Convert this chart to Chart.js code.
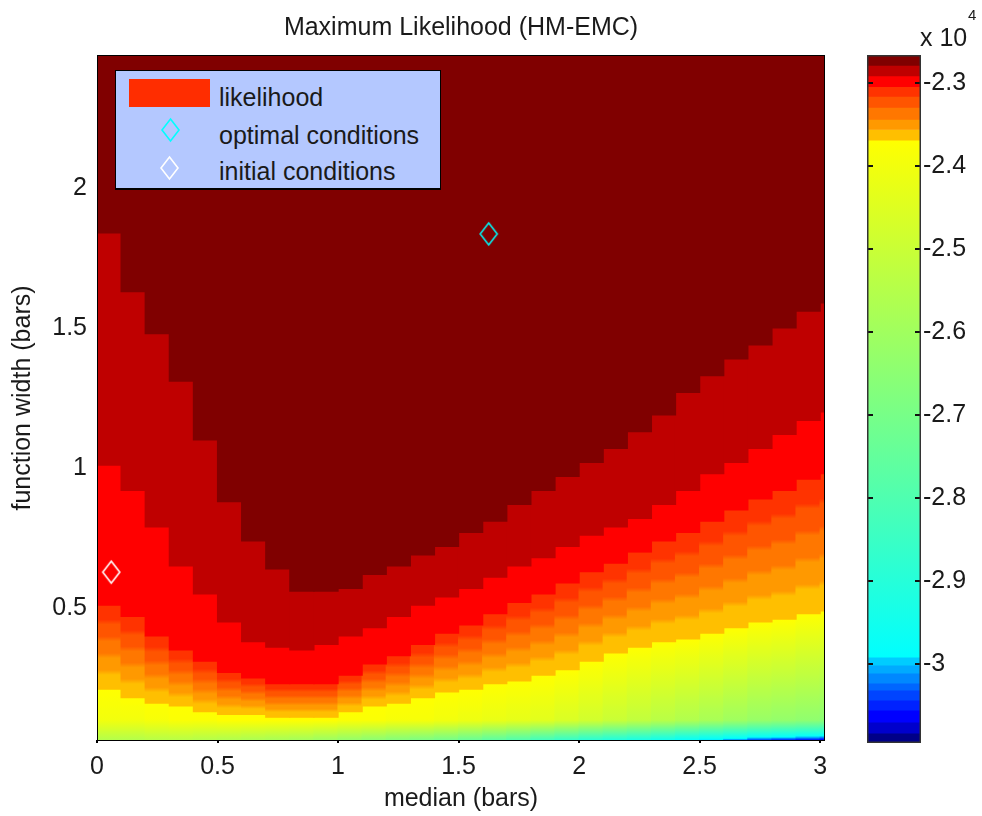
<!DOCTYPE html>
<html>
<head>
<meta charset="utf-8">
<title>Maximum Likelihood (HM-EMC)</title>
<script src="https://cdn.jsdelivr.net/npm/chart.js@4.4.1/dist/chart.umd.min.js"></script>
<style>
  html, body { margin: 0; padding: 0; background: #fff; }
  #wrap { position: relative; width: 982px; height: 816px; overflow: hidden;
          font-family: "Liberation Sans", Arial, sans-serif; color: #1a1a1a; }
  #wrap canvas { position: absolute; top: 0; }
  #legend { position: absolute; left: 115px; top: 70px; width: 326px; height: 120px;
            box-sizing: border-box; background: #b4c8ff; border: 1px solid #000; border-bottom-width: 2px; }
  #legend .txt { position: absolute; left: 103px; font-size: 25px; line-height: 25px; white-space: nowrap; }
  #legend .patch { position: absolute; left: 13px; top: 8px; width: 81px; height: 28px; background: #ff2d00; }
  #legend svg { position: absolute; }
  .exp { position: absolute; white-space: nowrap; }
</style>
</head>
<body>
<div id="wrap">
  <canvas id="map" width="982" height="816" style="left:0"></canvas>
  <canvas id="bar" width="142" height="816" style="left:840px"></canvas>
  <div id="legend">
    <div class="patch"></div>
    <div class="txt" style="top:14px">likelihood</div>
    <svg width="21" height="26" style="left:44px;top:46px"><polygon points="10.5,2 19,13 10.5,24 2,13" fill="none" stroke="#00ffff" stroke-width="1.6"/></svg>
    <div class="txt" style="top:52px">optimal conditions</div>
    <svg width="21" height="26" style="left:43px;top:84px"><polygon points="10.5,2 19,13 10.5,24 2,13" fill="none" stroke="#ffffff" stroke-width="1.6"/></svg>
    <div class="txt" style="top:88px">initial conditions</div>
  </div>
  <div class="exp" style="left:920px;top:25px;font-size:25px;line-height:25px">x 10</div>
  <div class="exp" style="left:968px;top:7px;font-size:15px;line-height:15px">4</div>
</div>
<script>
// grid columns (median, bars) and the lower edge of each colour band (function width, bars)
const median = [0.05, 0.15, 0.25, 0.35, 0.45, 0.55, 0.65, 0.75, 0.85, 0.95, 1.05, 1.15, 1.25, 1.35, 1.45, 1.55,
                1.65, 1.75, 1.85, 1.95, 2.05, 2.15, 2.25, 2.35, 2.45, 2.55, 2.65, 2.75, 2.85, 2.95, 3.05];
const darkFrom = [1.84, 1.63, 1.48, 1.31, 1.10, 0.88, 0.74, 0.64, 0.56, 0.56, 0.57, 0.62, 0.65, 0.69, 0.72, 0.77,
                  0.81, 0.87, 0.92, 0.97, 1.02, 1.07, 1.13, 1.19, 1.27, 1.33, 1.39, 1.44, 1.50, 1.56, 1.59];
const crimsonFrom = [1.01, 0.92, 0.79, 0.65, 0.55, 0.45, 0.38, 0.36, 0.35, 0.37, 0.40, 0.43, 0.47, 0.51, 0.54, 0.57,
                     0.61, 0.65, 0.68, 0.72, 0.76, 0.79, 0.82, 0.87, 0.92, 0.98, 1.02, 1.07, 1.12, 1.17, 1.20];
const redFrom = [0.51, 0.47, 0.40, 0.35, 0.31, 0.27, 0.25, 0.23, 0.23, 0.23, 0.26, 0.30, 0.33, 0.37, 0.41, 0.44,
                 0.48, 0.52, 0.55, 0.59, 0.63, 0.66, 0.70, 0.74, 0.77, 0.81, 0.85, 0.89, 0.92, 0.96, 0.98];
const orangeFrom = [0.21, 0.18, 0.16, 0.15, 0.13, 0.12, 0.12, 0.11, 0.11, 0.11, 0.13, 0.15, 0.16, 0.18, 0.20, 0.21,
                    0.23, 0.24, 0.26, 0.28, 0.31, 0.34, 0.36, 0.38, 0.39, 0.41, 0.43, 0.45, 0.46, 0.48, 0.49];
// likelihood (x 10^4) at width 0.1 and at the bottom edge of each column
const level10 = [-2.40, -2.40, -2.39, -2.38, -2.38, -2.37, -2.37, -2.37, -2.37, -2.37, -2.38, -2.38, -2.39, -2.39, -2.40, -2.41,
                 -2.42, -2.43, -2.44, -2.46, -2.48, -2.50, -2.52, -2.54, -2.56, -2.58, -2.60, -2.62, -2.63, -2.64, -2.65];
const floorLevel = [-2.56, -2.56, -2.55, -2.55, -2.56, -2.57, -2.58, -2.59, -2.60, -2.62, -2.64, -2.66, -2.68, -2.70, -2.72, -2.75,
                    -2.78, -2.81, -2.85, -2.88, -2.91, -2.93, -2.95, -2.97, -3.00, -3.02, -3.04, -3.06, -3.07, -3.08, -3.09];

const optimalMedian = [1.625], optimalWidth = [1.836];
const initialMedian = [0.059], initialWidth = [0.628];

const medianTicks = [0, 0.5, 1, 1.5, 2, 2.5, 3];
const widthTicks = [0.5, 1, 1.5, 2];

// colour bar (x 10^4)
const warmEdges = [-2.2667, -2.2792, -2.2920, -2.3048, -2.3165, -2.3298, -2.3442, -2.3563, -2.3692];
const warmColors = ['#800000', '#bf0000', '#ff0000', '#ff3300', '#ff5500', '#ff7700', '#ff9900', '#ffbf00'];
const coolEdges = [-2.9912, -3.0008, -3.0104, -3.0225, -3.0309, -3.0429, -3.0549, -3.0694, -3.0827, -3.0945];
const coolColors = ['#00ccff', '#00aaff', '#0088ff', '#0066ff', '#0044ff', '#0022ff', '#0000ff', '#0000cc', '#000088'];
const colorTicks = [-3, -2.9, -2.8, -2.7, -2.6, -2.5, -2.4, -2.3];

const widthMin = 0.025, widthMax = 2.475;

Chart.defaults.font.family = '"Liberation Sans", Arial, sans-serif';
Chart.defaults.font.size = 25;
Chart.defaults.color = '#1a1a1a';

// smooth colour lookup through the colour bar: band centres plus the yellow and cyan ends
const hex = h => [1, 3, 5].map(i => parseInt(h.substr(i, 2), 16));
const knots = [];
warmColors.forEach((c, i) => knots.push([(warmEdges[i] + warmEdges[i + 1]) / 2, hex(c)]));
knots.push([warmEdges[8], [255, 255, 0]]);
knots.push([coolEdges[0], [0, 255, 255]]);
coolColors.forEach((c, i) => knots.push([(coolEdges[i] + coolEdges[i + 1]) / 2, hex(c)]));

function colorAt(v) {
  if (v >= knots[0][0]) return `rgb(${knots[0][1].join(',')})`;
  for (let i = 1; i < knots.length; i++) {
    if (v >= knots[i][0]) {
      const [va, ca] = knots[i - 1], [vb, cb] = knots[i];
      const t = (v - vb) / (va - vb);
      return `rgb(${cb.map((c, j) => Math.round(c + (ca[j] - c) * t)).join(',')})`;
    }
  }
  return `rgb(${knots[knots.length - 1][1].join(',')})`;
}

function ramp(ctx, y0, y1, pieces) {
  const g = ctx.createLinearGradient(0, y0, 0, y1);
  const span = (y1 - y0) || 1;
  pieces.forEach(([pa, pb, va, vb]) => {
    for (let i = 0; i <= 16; i++) {
      const t = i / 16;
      const off = Math.min(1, Math.max(0, (pa + (pb - pa) * t - y0) / span));
      g.addColorStop(off, colorAt(va + (vb - va) * t));
    }
  });
  return g;
}

// stepped bands with softened edges
function steps(ctx, y0, y1, colors) {
  const g = ctx.createLinearGradient(0, y0, 0, y1);
  const n = colors.length, span = (y1 - y0) || 1;
  const soft = Math.min(2.5 / span, 0.25 / n);
  colors.forEach((col, i) => {
    g.addColorStop(i === 0 ? 0 : i / n + soft, col);
    g.addColorStop(i === n - 1 ? 1 : (i + 1) / n - soft, col);
  });
  return g;
}

function band(label, lower, upper, color) {
  return {
    type: 'bar', label, order: 1, clip: 0, grouped: false, inflateAmount: 0.6,
    barPercentage: 1, categoryPercentage: 1, borderWidth: 0,
    backgroundColor: color,
    data: median.map((x, i) => ({ x, y: [lower[i], upper === null ? widthMax : upper[i]] }))
  };
}

const yellowFill = c => {
  const ch = c.chart;
  if (!ch.chartArea || c.type !== 'data') return '#ffff00';
  const ys = ch.scales.y, k = c.dataIndex;
  const pTop = ys.getPixelForValue(orangeFrom[k]);
  const pMid = ys.getPixelForValue(0.1);
  const pBot = ys.getPixelForValue(widthMin);
  return ramp(ch.ctx, pTop, pBot, [[pTop, pMid, warmEdges[8], level10[k]],
                                   [pMid, pBot, level10[k], floorLevel[k]]]);
};

const orangeFill = c => {
  const ch = c.chart;
  if (!ch.chartArea || c.type !== 'data') return '#ff7700';
  const ys = ch.scales.y, k = c.dataIndex;
  return steps(ch.ctx, ys.getPixelForValue(redFrom[k]), ys.getPixelForValue(orangeFrom[k]), warmColors.slice(3));
};

function diamond(color) {
  const c = document.createElement('canvas');
  c.width = 21; c.height = 26;
  const g = c.getContext('2d');
  g.strokeStyle = color; g.lineWidth = 1.6;
  g.beginPath(); g.moveTo(10.5, 2); g.lineTo(19, 13); g.lineTo(10.5, 24); g.lineTo(2, 13); g.closePath();
  g.stroke();
  return c;
}

const mapFrame = {
  id: 'mapFrame',
  beforeDatasetsDraw(chart) {
    const { ctx, chartArea: a } = chart;
    ctx.save();
    ctx.fillStyle = warmColors[0];
    ctx.fillRect(a.left, a.top, a.width, a.height);
    ctx.restore();
  },
  afterDatasetsDraw(chart) {
    const { ctx, chartArea: a, scales: { x } } = chart;
    ctx.save();
    ctx.strokeStyle = '#000';
    ctx.lineWidth = 1;
    ctx.strokeRect(a.left + 0.5, a.top + 0.5, a.width - 1, a.height - 1);
    ctx.lineWidth = 2;
    medianTicks.forEach(v => {
      const px = Math.round(x.getPixelForValue(v));
      ctx.beginPath(); ctx.moveTo(px, a.bottom - 1); ctx.lineTo(px, a.bottom + 2); ctx.stroke();
    });
    ctx.restore();
  }
};

const zeroZone = median.map(() => widthMin);

new Chart(document.getElementById('map'), {
  type: 'bar',
  data: {
    datasets: [
      { type: 'scatter', label: 'optimal conditions', order: 0, pointStyle: diamond('#00f0f0'),
        data: optimalMedian.map((x, i) => ({ x, y: optimalWidth[i] })) },
      { type: 'scatter', label: 'initial conditions', order: 0, pointStyle: diamond('#ffffff'),
        data: initialMedian.map((x, i) => ({ x, y: initialWidth[i] })) },
      band('likelihood', darkFrom, null, warmColors[0]),
      band('likelihood', crimsonFrom, darkFrom, warmColors[1]),
      band('likelihood', redFrom, crimsonFrom, warmColors[2]),
      band('likelihood', orangeFrom, redFrom, orangeFill),
      band('likelihood', zeroZone, orangeFrom, yellowFill)
    ]
  },
  options: {
    responsive: false,
    animation: false,
    events: [],
    layout: { padding: { left: 0, right: 157, top: 0, bottom: 0 } },
    plugins: {
      legend: { display: false },
      tooltip: { enabled: false },
      title: {
        display: true, text: 'Maximum Likelihood (HM-EMC)', fullSize: false,
        font: { size: 25, weight: 'normal' }, padding: { top: 13, bottom: 12 }
      }
    },
    scales: {
      x: {
        type: 'linear', min: 0, max: 3.02, offset: false,
        grid: { display: false, drawTicks: false }, border: { display: false },
        ticks: { padding: 11, autoSkip: false, maxRotation: 0, callback: v => String(v) },
        afterBuildTicks: s => { s.ticks = medianTicks.map(v => ({ value: v })); },
        afterFit: s => { s.height = 75; },
        title: { display: true, text: 'median (bars)', padding: { top: 0, bottom: 2 } }
      },
      y: {
        type: 'linear', min: widthMin, max: widthMax,
        grid: { display: false, drawTicks: false }, border: { display: false },
        ticks: { padding: 10, autoSkip: false, callback: v => String(v) },
        afterBuildTicks: s => { s.ticks = widthTicks.map(v => ({ value: v })); },
        afterFit: s => { s.width = 97; },
        title: { display: true, text: 'function width (bars)', padding: { top: 8, bottom: 0 } }
      }
    }
  },
  plugins: [mapFrame]
});

// colour bar
const barFrame = {
  id: 'barFrame',
  afterDatasetsDraw(chart) {
    const { ctx, chartArea: a, scales: { y } } = chart;
    ctx.save();
    ctx.strokeStyle = '#111';
    ctx.lineWidth = 2;
    colorTicks.forEach(v => {
      const py = Math.round(y.getPixelForValue(v));
      ctx.beginPath();
      ctx.moveTo(a.left, py); ctx.lineTo(a.left + 6, py);
      ctx.moveTo(a.right - 6, py); ctx.lineTo(a.right, py);
      ctx.stroke();
    });
    ctx.lineWidth = 1.5;
    ctx.strokeStyle = '#333';
    ctx.strokeRect(a.left + 0.75, a.top + 0.75, a.width - 1.5, a.height - 1.5);
    ctx.restore();
  }
};

const barSets = [];
warmColors.forEach((col, i) => barSets.push({ data: [[warmEdges[i + 1], warmEdges[i]]], backgroundColor: col }));
barSets.push({
  data: [[coolEdges[0], warmEdges[8]]],
  backgroundColor: c => {
    const ch = c.chart;
    if (!ch.chartArea) return '#80ff80';
    const ys = ch.scales.y;
    const g = ch.ctx.createLinearGradient(0, ys.getPixelForValue(warmEdges[8]), 0, ys.getPixelForValue(coolEdges[0]));
    g.addColorStop(0, '#ffff00');
    g.addColorStop(1, '#00ffff');
    return g;
  }
});
coolColors.forEach((col, i) => barSets.push({ data: [[coolEdges[i + 1], coolEdges[i]]], backgroundColor: col }));
barSets.forEach(d => Object.assign(d, { grouped: false, clip: 0, borderWidth: 0, barPercentage: 1, categoryPercentage: 1 }));

new Chart(document.getElementById('bar'), {
  type: 'bar',
  data: { labels: [''], datasets: barSets },
  options: {
    responsive: false,
    animation: false,
    events: [],
    layout: { padding: { left: 27, right: 0, top: 55, bottom: 73 } },
    plugins: { legend: { display: false }, tooltip: { enabled: false } },
    scales: {
      x: { display: false },
      y: {
        position: 'right', min: coolEdges[9], max: warmEdges[0],
        grid: { display: false, drawTicks: false }, border: { display: false },
        ticks: { padding: 2, autoSkip: false, callback: v => String(v) },
        afterBuildTicks: s => { s.ticks = colorTicks.map(v => ({ value: v })); },
        afterFit: s => { s.width = 61; }
      }
    }
  },
  plugins: [barFrame]
});
</script>
</body>
</html>
